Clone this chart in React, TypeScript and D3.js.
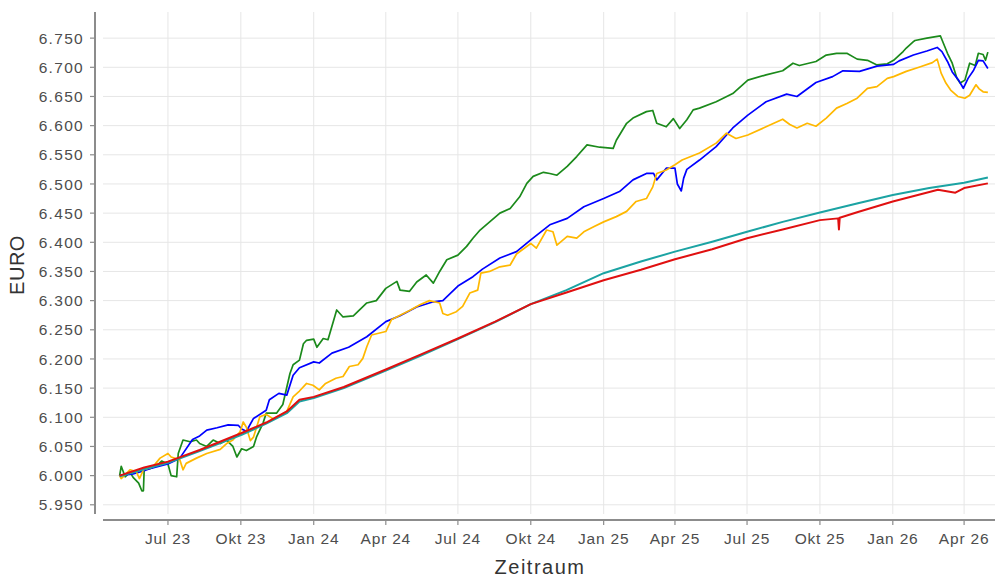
import React from 'react';
import * as d3 from 'd3';

// Daily NAV-like values in EURO (date, value)
const gruen: [string, number][] = [
  ['2023-05-01', 6.0], ['2023-05-03', 6.016], ['2023-05-08', 5.998], ['2023-05-14', 6.006],
  ['2023-05-18', 5.997], ['2023-05-25', 5.987], ['2023-05-29', 5.974], ['2023-05-31', 5.974],
  ['2023-06-01', 6.011], ['2023-06-08', 6.012], ['2023-06-17', 6.017], ['2023-06-23', 6.025],
  ['2023-07-01', 6.02], ['2023-07-05', 6.0], ['2023-07-12', 5.998], ['2023-07-14', 6.038],
  ['2023-07-20', 6.061], ['2023-07-29', 6.058], ['2023-08-06', 6.061], ['2023-08-10', 6.055],
  ['2023-08-19', 6.05], ['2023-08-27', 6.061], ['2023-09-05', 6.055], ['2023-09-13', 6.061],
  ['2023-09-21', 6.05], ['2023-09-26', 6.032], ['2023-10-02', 6.046], ['2023-10-08', 6.043],
  ['2023-10-17', 6.05], ['2023-10-21', 6.067], ['2023-10-29', 6.09], ['2023-11-02', 6.107],
  ['2023-11-15', 6.107], ['2023-11-23', 6.122], ['2023-12-02', 6.175], ['2023-12-06', 6.19],
  ['2023-12-14', 6.198], ['2023-12-19', 6.226], ['2023-12-23', 6.232], ['2024-01-01', 6.234],
  ['2024-01-05', 6.22], ['2024-01-13', 6.235], ['2024-01-19', 6.233], ['2024-01-30', 6.284],
  ['2024-02-07', 6.272], ['2024-02-20', 6.274], ['2024-03-08', 6.296], ['2024-03-20', 6.3],
  ['2024-04-01', 6.321], ['2024-04-15', 6.333], ['2024-04-19', 6.318], ['2024-05-01', 6.316],
  ['2024-05-10', 6.332], ['2024-05-22', 6.344], ['2024-05-31', 6.33], ['2024-06-08', 6.35],
  ['2024-06-17', 6.37], ['2024-07-01', 6.378], ['2024-07-12', 6.393], ['2024-07-20', 6.407],
  ['2024-07-29', 6.421], ['2024-08-23', 6.45], ['2024-09-05', 6.458], ['2024-09-17', 6.478],
  ['2024-09-26', 6.501], ['2024-10-04', 6.513], ['2024-10-17', 6.52], ['2024-10-25', 6.518],
  ['2024-11-03', 6.515], ['2024-11-16', 6.53], ['2024-11-28', 6.547], ['2024-12-11', 6.567],
  ['2024-12-27', 6.563], ['2025-01-13', 6.561], ['2025-01-17', 6.575], ['2025-01-30', 6.604],
  ['2025-02-07', 6.613], ['2025-02-24', 6.624], ['2025-03-04', 6.626], ['2025-03-09', 6.604],
  ['2025-03-21', 6.598], ['2025-03-30', 6.612], ['2025-04-07', 6.595], ['2025-04-16', 6.61],
  ['2025-04-24', 6.627], ['2025-05-02', 6.63], ['2025-05-23', 6.641], ['2025-06-13', 6.655],
  ['2025-07-02', 6.678], ['2025-07-25', 6.687], ['2025-08-15', 6.694], ['2025-08-28', 6.707],
  ['2025-09-05', 6.703], ['2025-09-26', 6.71], ['2025-10-09', 6.721], ['2025-10-22', 6.724],
  ['2025-11-04', 6.724], ['2025-11-17', 6.714], ['2025-11-30', 6.712], ['2025-12-12', 6.704],
  ['2025-12-25', 6.706], ['2026-01-02', 6.712], ['2026-01-14', 6.727], ['2026-01-18', 6.733],
  ['2026-01-27', 6.744], ['2026-01-29', 6.746], ['2026-02-13', 6.75], ['2026-03-02', 6.754],
  ['2026-03-11', 6.724], ['2026-03-17', 6.707], ['2026-03-23', 6.681], ['2026-03-27', 6.673],
  ['2026-04-02', 6.678], ['2026-04-08', 6.707], ['2026-04-15', 6.703], ['2026-04-19', 6.724],
  ['2026-04-25', 6.722], ['2026-04-28', 6.712], ['2026-05-01', 6.726],
];

const blau: [string, number][] = [
  ['2023-05-01', 6.0], ['2023-05-18', 6.003], ['2023-05-31', 6.008], ['2023-06-08', 6.012],
  ['2023-07-01', 6.02], ['2023-07-16', 6.03], ['2023-08-01', 6.062], ['2023-08-10', 6.068],
  ['2023-08-19', 6.078], ['2023-09-01', 6.082], ['2023-09-15', 6.087], ['2023-09-28', 6.086],
  ['2023-10-02', 6.08], ['2023-10-08', 6.076], ['2023-10-17', 6.098], ['2023-11-02', 6.112],
  ['2023-11-06', 6.13], ['2023-11-18', 6.141], ['2023-11-28', 6.138], ['2023-12-06', 6.172],
  ['2023-12-14', 6.185], ['2024-01-01', 6.195], ['2024-01-08', 6.193], ['2024-01-24', 6.21],
  ['2024-02-14', 6.22], ['2024-03-08', 6.238], ['2024-04-01', 6.264], ['2024-04-19', 6.274],
  ['2024-05-10', 6.289], ['2024-05-31', 6.298], ['2024-06-12', 6.3], ['2024-07-01', 6.325],
  ['2024-07-20', 6.341], ['2024-08-01', 6.354], ['2024-08-23', 6.373], ['2024-09-13', 6.384],
  ['2024-10-01', 6.404], ['2024-10-25', 6.43], ['2024-11-16', 6.441], ['2024-12-07', 6.461],
  ['2025-01-01', 6.475], ['2025-01-21', 6.487], ['2025-02-07', 6.507], ['2025-02-24', 6.518],
  ['2025-03-05', 6.518], ['2025-03-09', 6.507], ['2025-03-21', 6.527], ['2025-04-01', 6.527],
  ['2025-04-04', 6.5], ['2025-04-09', 6.488], ['2025-04-12', 6.51], ['2025-04-16', 6.525],
  ['2025-05-02', 6.541], ['2025-05-23', 6.564], ['2025-06-13', 6.596], ['2025-07-02', 6.618],
  ['2025-07-25', 6.641], ['2025-08-20', 6.654], ['2025-09-02', 6.65], ['2025-09-26', 6.674],
  ['2025-10-17', 6.684], ['2025-10-30', 6.694], ['2025-11-20', 6.693], ['2025-12-12', 6.702],
  ['2026-01-02', 6.705], ['2026-01-09', 6.711], ['2026-01-27', 6.721], ['2026-02-13', 6.728],
  ['2026-02-26', 6.734], ['2026-03-04', 6.727], ['2026-03-11', 6.71], ['2026-03-17', 6.692],
  ['2026-03-25', 6.678], ['2026-03-31', 6.664], ['2026-04-06', 6.681], ['2026-04-13', 6.695],
  ['2026-04-19', 6.712], ['2026-04-25', 6.711], ['2026-05-01', 6.698],
];

const orange: [string, number][] = [
  ['2023-05-01', 6.0], ['2023-05-03', 5.995], ['2023-05-14', 6.01], ['2023-05-22', 6.007],
  ['2023-05-26', 5.995], ['2023-05-31', 6.01], ['2023-06-12', 6.015], ['2023-06-21', 6.03],
  ['2023-07-01', 6.038], ['2023-07-05', 6.032], ['2023-07-16', 6.027], ['2023-07-20', 6.01],
  ['2023-07-24', 6.021], ['2023-08-06', 6.03], ['2023-08-19', 6.038], ['2023-09-05', 6.045],
  ['2023-09-13', 6.055], ['2023-09-21', 6.061], ['2023-09-30', 6.075], ['2023-10-04', 6.092],
  ['2023-10-08', 6.083], ['2023-10-13', 6.06], ['2023-10-17', 6.066], ['2023-10-25', 6.101],
  ['2023-11-02', 6.105], ['2023-11-11', 6.097], ['2023-11-19', 6.103], ['2023-11-28', 6.11],
  ['2023-12-06', 6.135], ['2023-12-14', 6.145], ['2023-12-23', 6.158], ['2023-12-31', 6.155],
  ['2024-01-08', 6.147], ['2024-01-16', 6.158], ['2024-01-29', 6.167], ['2024-02-07', 6.17],
  ['2024-02-15', 6.187], ['2024-02-26', 6.19], ['2024-03-03', 6.201], ['2024-03-08', 6.221],
  ['2024-03-14', 6.241], ['2024-04-01', 6.247], ['2024-04-08', 6.267], ['2024-04-19', 6.275],
  ['2024-05-01', 6.283], ['2024-05-14', 6.293], ['2024-05-26', 6.3], ['2024-06-08', 6.296],
  ['2024-06-12', 6.278], ['2024-06-18', 6.275], ['2024-06-29', 6.281], ['2024-07-07', 6.29],
  ['2024-07-16', 6.313], ['2024-07-26', 6.318], ['2024-07-30', 6.347], ['2024-08-10', 6.35],
  ['2024-08-23', 6.358], ['2024-09-05', 6.361], ['2024-09-13', 6.38], ['2024-10-01', 6.398],
  ['2024-10-08', 6.39], ['2024-10-21', 6.421], ['2024-10-29', 6.418], ['2024-11-03', 6.395],
  ['2024-11-16', 6.41], ['2024-11-28', 6.407], ['2024-12-07', 6.418], ['2024-12-20', 6.427],
  ['2025-01-01', 6.435], ['2025-01-17', 6.444], ['2025-01-30', 6.453], ['2025-02-11', 6.47],
  ['2025-02-24', 6.475], ['2025-03-04', 6.495], ['2025-03-09', 6.518], ['2025-03-21', 6.524],
  ['2025-04-01', 6.533], ['2025-04-10', 6.541], ['2025-05-02', 6.553], ['2025-05-23', 6.57],
  ['2025-06-05', 6.587], ['2025-06-17', 6.578], ['2025-07-02', 6.584], ['2025-07-25', 6.598],
  ['2025-08-15', 6.611], ['2025-08-24', 6.602], ['2025-09-02', 6.596], ['2025-09-15', 6.604],
  ['2025-09-26', 6.599], ['2025-10-09', 6.613], ['2025-10-22', 6.63], ['2025-11-04', 6.638],
  ['2025-11-17', 6.647], ['2025-11-30', 6.664], ['2025-12-12', 6.667], ['2025-12-25', 6.681],
  ['2026-01-02', 6.684], ['2026-01-18', 6.693], ['2026-02-03', 6.7], ['2026-02-20', 6.708],
  ['2026-02-26', 6.714], ['2026-03-03', 6.69], ['2026-03-09', 6.673], ['2026-03-15', 6.661],
  ['2026-03-24', 6.65], ['2026-04-02', 6.647], ['2026-04-08', 6.652], ['2026-04-16', 6.67],
  ['2026-04-20', 6.663], ['2026-04-25', 6.658], ['2026-05-01', 6.657],
];

const tuerkis: [string, number][] = [
  ['2023-05-01', 5.999], ['2023-06-01', 6.011], ['2023-07-01', 6.022], ['2023-08-10', 6.042],
  ['2023-10-02', 6.07], ['2023-11-02', 6.089], ['2023-11-28', 6.107], ['2023-12-14', 6.127],
  ['2024-01-01', 6.133], ['2024-02-08', 6.15], ['2024-04-01', 6.18], ['2024-05-14', 6.205],
  ['2024-07-01', 6.234], ['2024-08-17', 6.263], ['2024-10-01', 6.294], ['2024-11-15', 6.318],
  ['2025-01-01', 6.347], ['2025-02-17', 6.367], ['2025-04-01', 6.384], ['2025-05-18', 6.401],
  ['2025-07-01', 6.418], ['2025-08-15', 6.435], ['2025-10-01', 6.451], ['2025-11-18', 6.467],
  ['2026-01-01', 6.481], ['2026-02-16', 6.493], ['2026-04-01', 6.502], ['2026-05-01', 6.511],
];

const rot: [string, number][] = [
  ['2023-05-01', 6.0], ['2023-06-01', 6.014], ['2023-07-01', 6.024], ['2023-08-10', 6.044],
  ['2023-10-02', 6.073], ['2023-11-02', 6.091], ['2023-11-28', 6.11], ['2023-12-14', 6.13],
  ['2024-01-01', 6.135], ['2024-02-08', 6.152], ['2024-04-01', 6.182], ['2024-05-14', 6.207],
  ['2024-07-01', 6.235], ['2024-08-17', 6.264], ['2024-10-01', 6.294], ['2024-11-15', 6.314],
  ['2025-01-01', 6.335], ['2025-02-17', 6.353], ['2025-04-01', 6.371], ['2025-05-18', 6.388],
  ['2025-07-01', 6.407], ['2025-08-15', 6.422], ['2025-10-01', 6.438], ['2025-10-24', 6.441],
  ['2025-10-25', 6.422], ['2025-10-26', 6.442], ['2025-11-18', 6.452], ['2026-01-01', 6.47],
  ['2026-02-27', 6.49], ['2026-03-21', 6.485], ['2026-04-01', 6.493], ['2026-05-01', 6.501],
];

const serien = [
  { name: 'gruen', color: '#1b8a1b', width: 1.7, data: gruen },
  { name: 'blau', color: '#0000ff', width: 1.7, data: blau },
  { name: 'orange', color: '#ffb800', width: 1.7, data: orange },
  { name: 'tuerkis', color: '#1ba3a3', width: 2, data: tuerkis },
  { name: 'rot', color: '#e01010', width: 2, data: rot },
];

const yTicks = [5.95, 6.0, 6.05, 6.1, 6.15, 6.2, 6.25, 6.3, 6.35, 6.4, 6.45, 6.5, 6.55, 6.6, 6.65, 6.7, 6.75];
const xTickDates = [
  '2023-07-01', '2023-10-01', '2024-01-01', '2024-04-01', '2024-07-01', '2024-10-01',
  '2025-01-01', '2025-04-01', '2025-07-01', '2025-10-01', '2026-01-01', '2026-04-01',
];
const xTickLabels = [
  'Jul 23', 'Okt 23', 'Jan 24', 'Apr 24', 'Jul 24', 'Okt 24',
  'Jan 25', 'Apr 25', 'Jul 25', 'Okt 25', 'Jan 26', 'Apr 26',
];

const parse = d3.timeParse('%Y-%m-%d');

export default function App() {
  const width = 995;
  const height = 578;
  const plot = { left: 103, right: 995, top: 12, bottom: 514 };

  const x = d3.scaleTime()
    .domain([parse('2023-04-10')!, parse('2026-05-10')!])
    .range([plot.left, plot.right]);
  const y = d3.scaleLinear()
    .domain([5.9342, 6.7948])
    .range([plot.bottom, plot.top]);

  const line = d3.line<[string, number]>()
    .x(d => x(parse(d[0])!))
    .y(d => y(d[1]));

  const fmt = d3.format('.3f');
  const tickColor = '#4d4d4d';
  const font = '"Liberation Sans", Arial, sans-serif';

  return (
    <svg width={width} height={height} style={{ position: 'absolute', left: 0, top: 0, background: '#fff' }}>
      {/* grid */}
      <g stroke="#e6e6e6" strokeWidth={1}>
        {yTicks.map(t => (
          <line key={'gy' + t} x1={plot.left} x2={plot.right} y1={y(t)} y2={y(t)} />
        ))}
        {xTickDates.map(d => (
          <line key={'gx' + d} x1={x(parse(d)!)} x2={x(parse(d)!)} y1={plot.top} y2={plot.bottom} />
        ))}
      </g>

      {/* lines */}
      <g fill="none" strokeLinejoin="round">
        {serien.map(s => (
          <path key={s.name} d={line(s.data) || ''} stroke={s.color} strokeWidth={s.width} />
        ))}
      </g>

      {/* y axis */}
      <line x1={95} x2={95} y1={plot.top} y2={plot.bottom} stroke="#8c8c8c" strokeWidth={2} />
      {yTicks.map(t => (
        <g key={'yt' + t} transform={`translate(0,${y(t)})`}>
          <line x1={90} x2={95} stroke="#8c8c8c" strokeWidth={1.2} />
          <text x={84} dy="0.36em" textAnchor="end" fontSize={15.5} letterSpacing={1.3}
            fill={tickColor} fontFamily={font}>{fmt(t)}</text>
        </g>
      ))}

      {/* x axis */}
      <line x1={plot.left} x2={plot.right} y1={520} y2={520} stroke="#8c8c8c" strokeWidth={2} />
      {xTickDates.map((d, i) => (
        <g key={'xt' + d} transform={`translate(${x(parse(d)!)},520)`}>
          <line y1={0} y2={5} stroke="#8c8c8c" strokeWidth={1.2} />
          <text y={18} dy="0.36em" textAnchor="middle" fontSize={15.5} letterSpacing={0.8}
            fill={tickColor} fontFamily={font}>{xTickLabels[i]}</text>
        </g>
      ))}

      {/* axis titles */}
      <text x={540} y={574} textAnchor="middle" fontSize={20} letterSpacing={1.5}
        fill="#333" fontFamily={font}>Zeitraum</text>
      <text transform="translate(24,265) rotate(-90)" textAnchor="middle" fontSize={20}
        letterSpacing={0.5} fill="#333" fontFamily={font}>EURO</text>
    </svg>
  );
}
